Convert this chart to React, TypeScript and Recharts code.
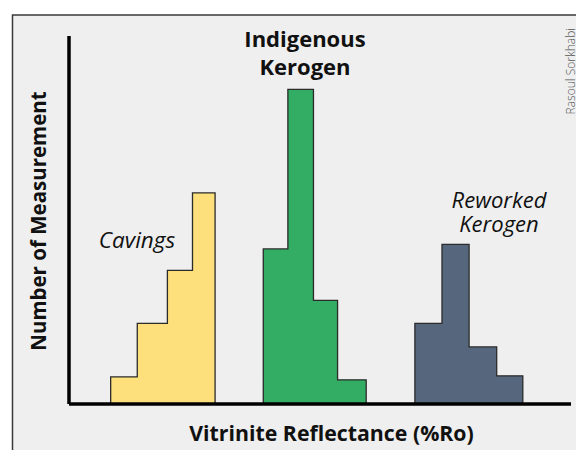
import React from 'react';
import { ComposedChart, Area, XAxis, YAxis } from 'recharts';

// bin edges (arbitrary %Ro scale, 0-100) and counts for each population
const cavingsEdges = [8.3, 13.6, 19.6, 24.6, 29.1];
const cavingsCounts = [1.03, 3.07, 5.08, 8.03];
const indigenousEdges = [38.7, 43.6, 48.7, 53.5, 59.2];
const indigenousCounts = [5.9, 11.97, 3.94, 0.92];
const reworkedEdges = [68.9, 74.3, 79.7, 85.2, 90.4];
const reworkedCounts = [3.07, 6.07, 2.17, 1.07];

const seriesKeys = ['cavings', 'indigenous', 'reworked'];

const colors: Record<string, string> = {
    cavings: '#fddf7c',
    indigenous: '#33ad63',
    reworked: '#56677d'
};

const FONT = '"Open Sans", "Noto Sans", sans-serif';

// turns edges + counts into an outlined step histogram for one series
const stepRows = (key: string, edges: number[], counts: number[]) => {
    const row = (x: number, v: number) => {
        const r: Record<string, number | null> = { x };
        seriesKeys.forEach(k => { r[k] = k === key ? v : null; });
        return r;
    };
    const rows = [row(edges[0], 0)];
    counts.forEach((c, i) => rows.push(row(edges[i], c)));
    const last = edges[edges.length - 1];
    rows.push(row(last, counts[counts.length - 1]));
    rows.push(row(last, 0));
    return rows;
};

const data = [
    ...stepRows('cavings', cavingsEdges, cavingsCounts),
    ...stepRows('indigenous', indigenousEdges, indigenousCounts),
    ...stepRows('reworked', reworkedEdges, reworkedCounts)
];

const App: React.FC = () => {
    return (
        <div style={{ position: 'absolute', left: 0, top: 0, width: 576, height: 450, background: '#fff', overflow: 'hidden' }}>
            <svg width={576} height={450} style={{ position: 'absolute', left: 0, top: 0 }}>
                <rect x={12.5} y={15} width={620} height={500} fill="#efefef" stroke="#3a3a3a" strokeWidth={1.5} />
                <g fontFamily={FONT} fill="#111">
                    <text textAnchor="middle" fontSize={22} fontWeight={700}>
                        <tspan x={305} y={46.5}>Indigenous</tspan>
                        <tspan x={305} y={75}>Kerogen</tspan>
                    </text>
                    <text x={137} y={248.3} textAnchor="middle" fontSize={22.5} fontStyle="italic">Cavings</text>
                    <text textAnchor="middle" fontSize={22} fontStyle="italic">
                        <tspan x={499} y={208}>Reworked</tspan>
                        <tspan x={499} y={232}>Kerogen</tspan>
                    </text>
                    <text x={331.5} y={440.7} textAnchor="middle" fontSize={21.3} fontWeight={700}>Vitrinite Reflectance (%Ro)</text>
                    <text x={46} y={221} textAnchor="middle" fontSize={20.5} fontWeight={700} transform="rotate(-90 46 221)">
                        Number of Measurement
                    </text>
                    <text x={575} y={28} textAnchor="end" fontSize={12} fontWeight={300} fill="#555" transform="rotate(-90 575 28)">
                        Rasoul Sorkhabi
                    </text>
                </g>
            </svg>
            <div style={{ position: 'absolute', left: 0, top: 0 }}>
                <ComposedChart width={576} height={450} data={data} margin={{ top: 36, right: 5, bottom: 45, left: 68 }}>
                    <XAxis
                        dataKey="x"
                        type="number"
                        domain={[0, 100]}
                        height={1}
                        tick={false}
                        tickLine={false}
                        axisLine={{ stroke: '#000', strokeWidth: 3.5 }}
                    />
                    <YAxis
                        type="number"
                        domain={[0, 14]}
                        width={1}
                        tick={false}
                        tickLine={false}
                        axisLine={{ stroke: '#000', strokeWidth: 3.5 }}
                    />
                    {seriesKeys.map(k => (
                        <Area
                            key={k}
                            dataKey={k}
                            type="stepAfter"
                            fill={colors[k]}
                            fillOpacity={1}
                            stroke="#2b2b2b"
                            strokeWidth={1.3}
                            dot={false}
                            activeDot={false}
                            connectNulls={false}
                            isAnimationActive={false}
                        />
                    ))}
                </ComposedChart>
            </div>
        </div>
    );
};

export default App;
